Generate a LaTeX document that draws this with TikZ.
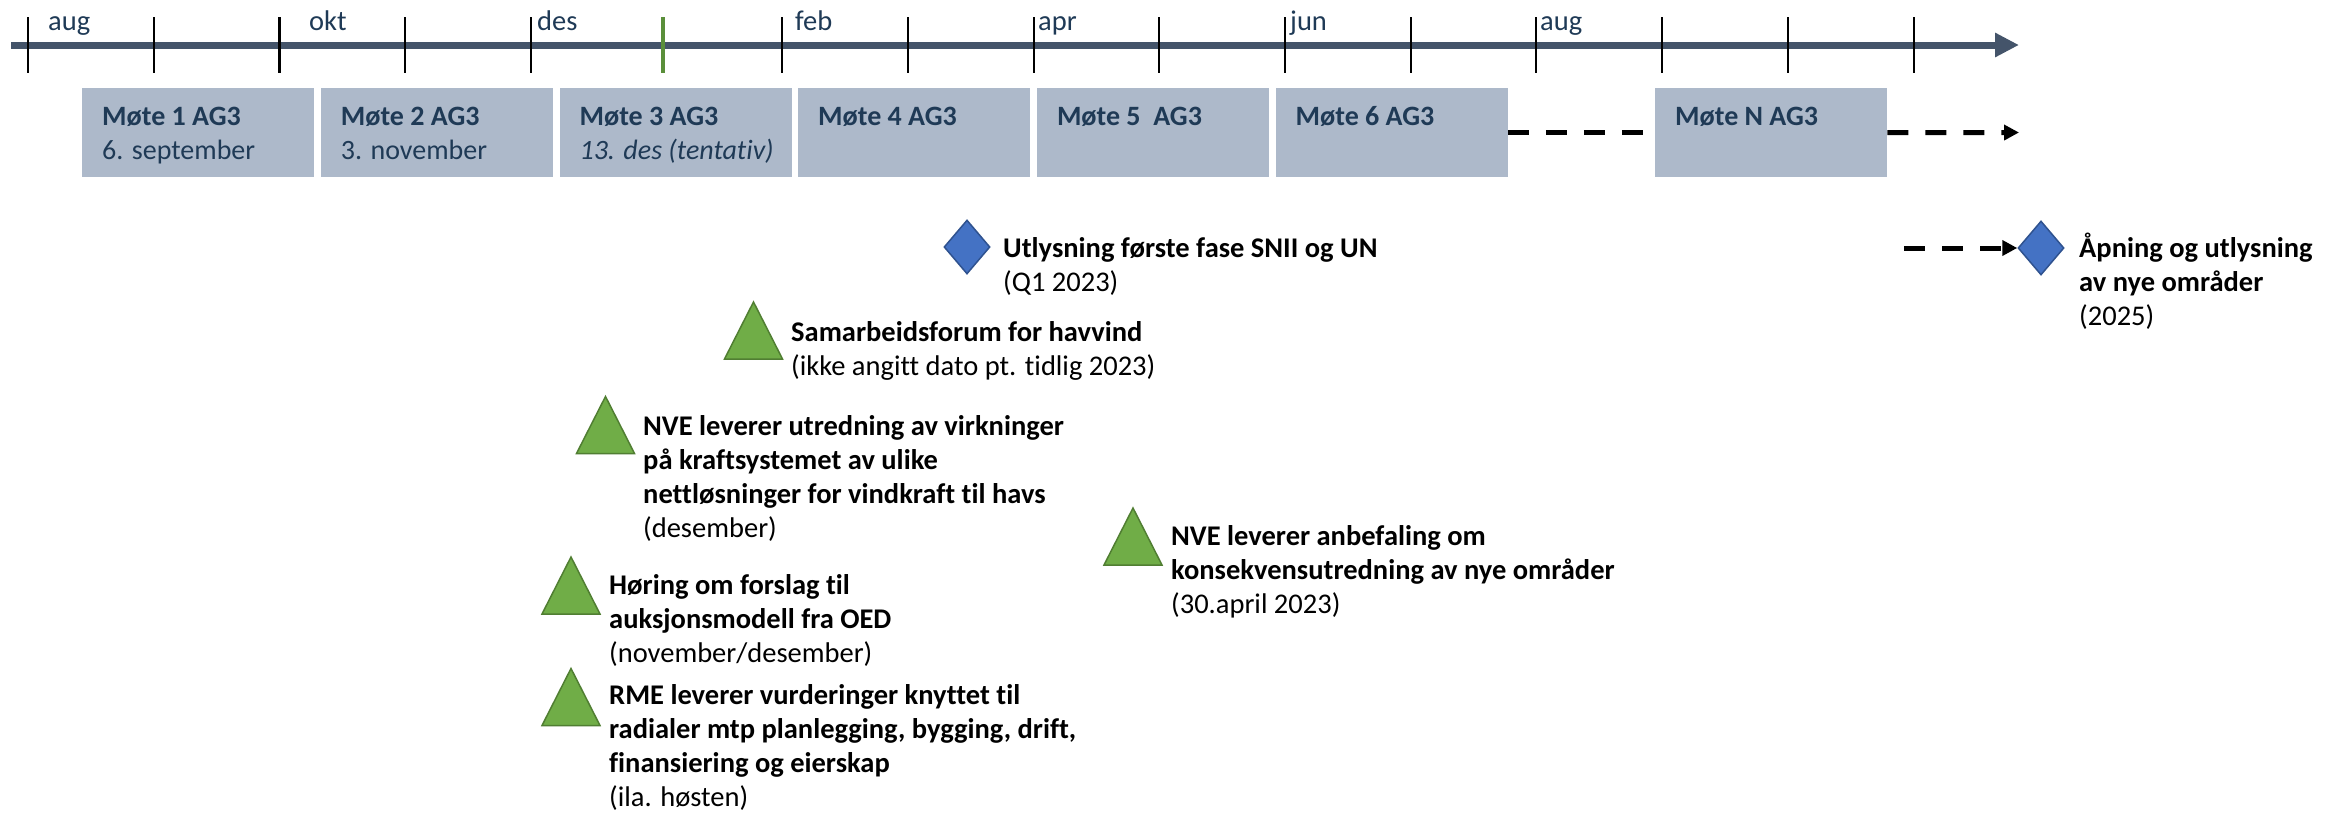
\documentclass[tikz,border=0pt]{standalone}
\usepackage{fontspec}
\setmainfont{Carlito}[Ligatures=NoCommon]
\usetikzlibrary{arrows.meta,shapes.geometric,calc}
\definecolor{axisc}{HTML}{44546A}
\definecolor{boxc}{HTML}{ADB9CA}
\definecolor{txtc}{HTML}{1F3A56}
\definecolor{greent}{HTML}{5A8F3A}
\definecolor{trifill}{HTML}{70AD47}
\definecolor{triline}{HTML}{507E32}
\definecolor{diafill}{HTML}{4472C4}
\definecolor{dialine}{HTML}{2F528F}
\begin{document}
\begin{tikzpicture}[x=1pt,y=-1pt,
  mtick/.style={line width=2.2pt, black},
  gtick/.style={line width=4.5pt, greent},
  mbox/.style={fill=boxc, draw=none, minimum width=232pt, minimum height=89pt, inner sep=0pt, anchor=north west},
  btxt/.style={anchor=base west, inner sep=0pt, text=txtc, align=left, font=\fontsize{28}{34}\selectfont},
  mlab/.style={anchor=base west, inner sep=0pt, text=txtc, font=\fontsize{28.5}{34}\selectfont},
  evtxt/.style={anchor=base west, inner sep=0pt, align=left, text=black, font=\fontsize{28.5}{34}\selectfont},
  dline/.style={line width=5pt, dash pattern=on 21pt off 17pt, black},
  dtip/.style={-{Triangle[length=15pt,width=15pt]}},
  dia/.style={diamond, fill=diafill, draw=dialine, line width=1.5pt, minimum width=46pt, minimum height=54pt, inner sep=0pt},
  tri/.pic={\path[fill=trifill, draw=triline, line width=1.5pt, line join=miter] (-29,28.5) -- (0,-28.5) -- (29,28.5) -- cycle;}
]
\useasboundingbox (0,0) rectangle (2346,817);

% axis
\coordinate (axs) at (11,45);
\coordinate (axe) at (2019,45);
\draw[line width=7pt, axisc, -{Triangle[length=24pt,width=23pt]}] (axs) -- (axe);
\foreach \x in {28,153.7,279.4,405,530.8,782,908,1033.6,1159,1285,1410.7,1536,1662,1788,1914}
  \draw[mtick] (\x,17) -- (\x,73);
\draw[gtick] (663,17) -- (663,73);

% month labels
\node[mlab] (maug) at (48,30) {aug};
\node[mlab] (mokt) at (309,30) {okt};
\node[mlab] (mdes) at (537,30) {des};
\node[mlab] (mfeb) at (795,30) {feb};
\node[mlab] (mapr) at (1038,30) {apr};
\node[mlab] (mjun) at (1290,30) {jun};
\node[mlab] (maug2) at (1540,30) {aug};

% meeting boxes
\node[mbox] (b1) at (82,88) {};
\node[mbox] (b2) at (320.7,88) {};
\node[mbox] (b3) at (559.4,88) {};
\node[mbox] (b4) at (798,88) {};
\node[mbox] (b5) at (1036.8,88) {};
\node[mbox] (b6) at (1275.5,88) {};
\node[mbox] (bN) at (1655,88) {};

% (multi-line nodes: base anchor = last line baseline)
\node[btxt] (t1) at ($(b1.north west)+(20,71)$) {\textbf{Møte 1 AG3}\\6. september};
\node[btxt] (t2) at ($(b2.north west)+(20,71)$) {\textbf{Møte 2 AG3}\\3. november};
\node[btxt] (t3) at ($(b3.north west)+(20,71)$) {\textbf{Møte 3 AG3}\\\textit{13. des (tentativ)}};
\node[btxt] (t4) at ($(b4.north west)+(20,37)$) {\textbf{Møte 4 AG3}};
\node[btxt] (t5) at ($(b5.north west)+(20,37)$) {\textbf{Møte 5\ \ AG3}};
\node[btxt] (t6) at ($(b6.north west)+(20,37)$) {\textbf{Møte 6 AG3}};
\node[btxt] (tN) at ($(bN.north west)+(20,37)$) {\textbf{Møte N AG3}};

% dashed continuation
\coordinate (dend) at (2019,132.5);
\draw[dline] (b6.east) -- (bN.west);
\draw[dline, dtip] (bN.east) -- (dend);

% diamonds
\node[dia] (d1) at (967,247) {};
\node[evtxt] (e1) at (1003,291) {\textbf{Utlysning første fase SNII og UN}\\(Q1 2023)};

\node[dia] (d2) at (2041,248) {};
\coordinate (d3s) at (1904,248);
\draw[dline, dtip] (d3s) -- (d2);
\node[evtxt] (e7) at (2079,325) {\textbf{Åpning og utlysning}\\\textbf{av nye områder}\\(2025)};

% triangles
\pic at (753.5,330.5) {tri};
\node[evtxt] (e2) at (791,375) {\textbf{Samarbeidsforum for havvind}\\(ikke angitt dato pt. tidlig 2023)};

\pic at (605.5,425) {tri};
\node[evtxt] (e3) at (643,537) {\textbf{NVE leverer utredning av virkninger}\\\textbf{på kraftsystemet av ulike}\\\textbf{nettløsninger for vindkraft til havs}\\(desember)};

\pic at (1133,536.5) {tri};
\node[evtxt] (e4) at (1171,613) {\textbf{NVE leverer anbefaling om}\\\textbf{konsekvensutredning av nye områder}\\(30.april 2023)};

\pic at (571,585.5) {tri};
\node[evtxt] (e5) at (609,662) {\textbf{Høring om forslag til}\\\textbf{auksjonsmodell fra OED}\\(november/desember)};

\pic at (571,697) {tri};
\node[evtxt] (e6) at (609,806) {\textbf{RME leverer vurderinger knyttet til}\\\textbf{radialer mtp planlegging, bygging, drift,}\\\textbf{finansiering og eierskap}\\(ila. høsten)};
\end{tikzpicture}
\end{document}
